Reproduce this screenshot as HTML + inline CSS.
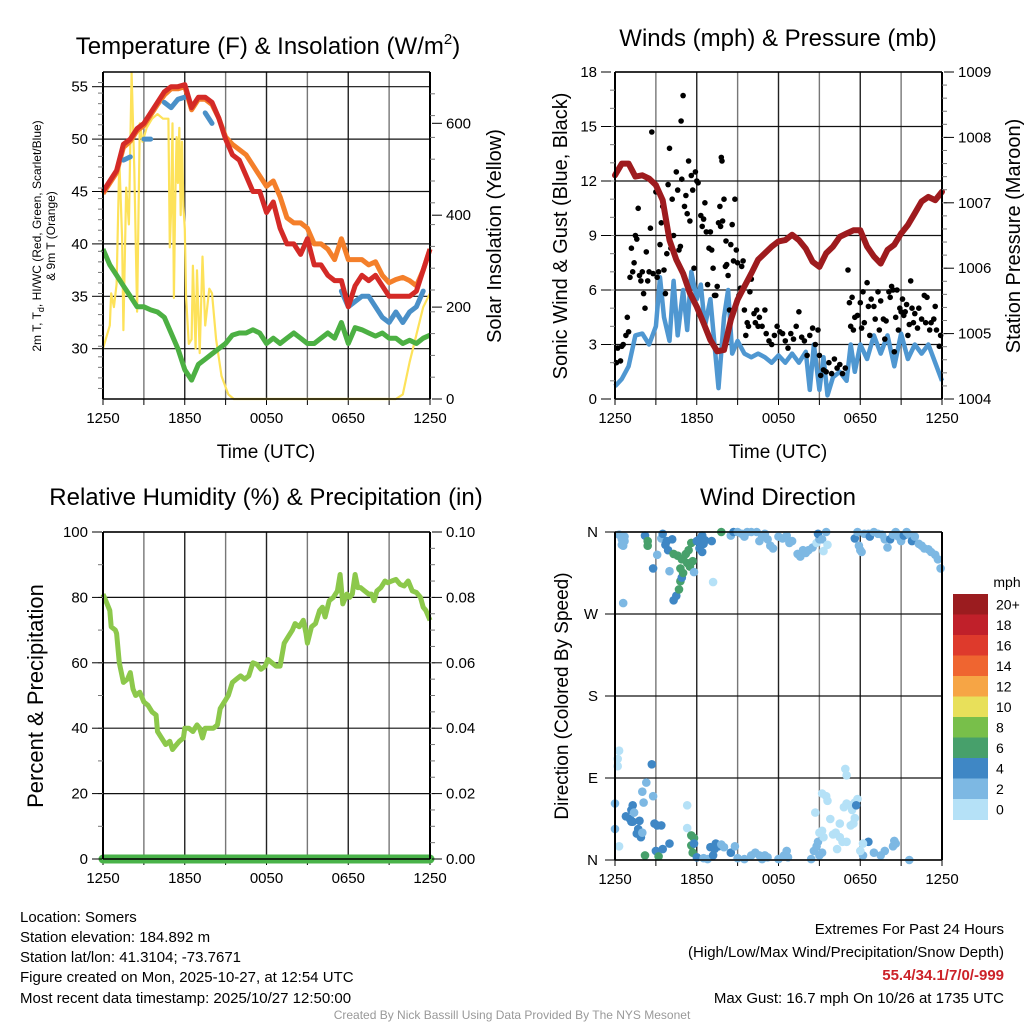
<!DOCTYPE html>
<html><head><meta charset="utf-8"><style>
html,body{margin:0;padding:0;background:#fff;}
svg{display:block;font-family:"Liberation Sans",sans-serif;}
</style></head><body>
<svg id="chart" width="1024" height="1024" viewBox="0 0 1024 1024" xmlns="http://www.w3.org/2000/svg">
<rect width="1024" height="1024" fill="#fff"/>
<g id="p1"></g>
<g id="p2"></g>
<g id="p3"></g>
<g id="p4"></g>
<g font-size="24" text-anchor="middle" fill="#000">
<text x="268" y="54">Temperature (F) &amp; Insolation (W/m<tspan font-size="15" dy="-10">2</tspan><tspan dy="10">)</tspan></text>
<text x="778" y="46">Winds (mph) &amp; Pressure (mb)</text>
<text x="266" y="505">Relative Humidity (%) &amp; Precipitation (in)</text>
<text x="778" y="505">Wind Direction</text>
</g>
<g fill="#000">
<text x="266" y="458" font-size="19" text-anchor="middle">Time (UTC)</text>
<text x="778" y="458" font-size="19" text-anchor="middle">Time (UTC)</text>
<text font-size="12" text-anchor="middle" transform="translate(41,236) rotate(-90)">2m T, T<tspan font-size="9" dy="3">d</tspan><tspan dy="-3">, HI/WC (Red, Green, Scarlet/Blue)</tspan></text>
<text font-size="12" text-anchor="middle" transform="translate(55,236) rotate(-90)">&amp; 9m T (Orange)</text>
<text font-size="20" text-anchor="middle" transform="translate(501,236) rotate(-90)">Solar Insolation (Yellow)</text>
<text font-size="20" text-anchor="middle" transform="translate(567,236) rotate(-90)">Sonic Wind &amp; Gust (Blue, Black)</text>
<text font-size="20" text-anchor="middle" transform="translate(1020,236) rotate(-90)">Station Pressure (Maroon)</text>
<text font-size="22" text-anchor="middle" transform="translate(43,696) rotate(-90)">Percent &amp; Precipitation</text>
<text font-size="19" text-anchor="middle" transform="translate(568,696) rotate(-90)">Direction (Colored By Speed)</text>
</g>
<g font-size="15" fill="#000">
<text x="20" y="922">Location: Somers</text>
<text x="20" y="942">Station elevation: 184.892 m</text>
<text x="20" y="962">Station lat/lon: 41.3104; -73.7671</text>
<text x="20" y="982">Figure created on Mon, 2025-10-27, at 12:54 UTC</text>
<text x="20" y="1003">Most recent data timestamp: 2025/10/27 12:50:00</text>
<text x="1004" y="934" text-anchor="end">Extremes For Past 24 Hours</text>
<text x="1004" y="957" text-anchor="end">(High/Low/Max Wind/Precipitation/Snow Depth)</text>
<text x="1004" y="980" text-anchor="end" fill="#cc2229" font-weight="bold">55.4/34.1/7/0/-999</text>
<text x="1004" y="1003" text-anchor="end">Max Gust: 16.7 mph On 10/26 at 1735 UTC</text>
<text x="512" y="1019" text-anchor="middle" font-size="12" fill="#999">Created By Nick Bassill Using Data Provided By The NYS Mesonet</text>
</g>
</svg>
<script>
const xLabels = ["1250","1850","0050","0650","1250"];
const tempTicks = [30,35,40,45,50,55];
const insolTicks = [0,200,400,600];
const windTicks = [0,3,6,9,12,15,18];
const presTicks = [1004,1005,1006,1007,1008,1009];
const rhTicks = [0,20,40,60,80,100];
const precipTicks = ["0.00","0.02","0.04","0.06","0.08","0.10"];
const dirLabels = ["N","E","S","W","N"];
const speedBins = ["0","2","4","6","8","10","12","14","16","18","20+"];
const speedColors = ["#b5e1f7","#7db8e3","#3f87c5","#47a06b","#78bf4a","#e8e05a","#f6a545","#ef6530","#de3a2c","#c0202a","#9b1c1f"];

const tHalf = [0,0.5,1,1.5,2,2.5,3,3.5,4,4.5,5,5.5,6,6.5,7,7.5,8,8.5,9,9.5,10,10.5,11,11.5,12,12.5,13,13.5,14,14.5,15,15.5,16,16.5,17,17.5,18,18.5,19,19.5,20,20.5,21,21.5,22,22.5,23,23.5,24];
const tempRed = [45,46,47,49.5,50,51,51.5,52.5,53.5,54.5,55,55,55.2,53,54,54,53.5,52,50,48.5,48,46.5,45,45,43,44,41.5,40,40,39,40.5,38,38,37,36.5,36.5,34,36,37,36.5,37,36,35,35,35,35,35.5,37.5,39.5];
const tempOrange = [44.8,45.8,46.8,49.2,49.8,50.8,51.3,52.3,53.3,54.2,54.8,54.8,55,52.8,53.8,53.8,53.3,52,50.2,49.5,49,48.5,47.5,46.5,45.5,46,44.5,42.5,42,42,41.5,40,40,39.5,38.5,40.5,38.5,38.5,38.5,38,38.3,37,36.3,36.6,36.8,36.5,36,37.5,39.5];
const tempBlue = [null,null,null,48,48.3,null,50,50,null,53.5,53,53.8,54,null,null,52.5,51.5,null,null,null,null,null,null,null,null,null,null,38.5,null,null,null,null,null,null,null,35.5,34,34.5,35,35,34,33,32.5,33.5,32.5,33.5,34,35.5,null];
const dewGreen = [39.5,38,37,36,35,34,34,33.7,33.5,33,31.5,30,28,27,28.5,29,29.5,30,30.5,31.3,31.5,31.5,31.8,31.5,30.5,31,30.5,31,31.5,31,30.5,30.5,31,31.5,31,32.5,30.5,32,31.8,31.5,31.2,31.5,31,31,30.5,30.8,30.5,31,31.3];
const insolT = [0,0.5,0.6,0.8,1.0,1.2,1.4,1.5,1.7,1.9,2.1,2.3,2.5,2.7,2.9,3.2,3.6,4.0,4.4,4.8,4.9,5.0,5.1,5.2,5.3,5.4,5.5,5.6,5.7,5.8,5.9,6.0,6.1,6.3,6.5,6.6,6.8,6.9,7.1,7.3,7.5,7.8,8.0,8.3,8.7,9.2,9.6,21.5,22.0,22.5,23,23.5,24];
const insolV = [110,160,230,200,250,520,350,150,460,380,710,500,190,600,560,590,610,620,610,610,330,410,600,220,430,570,470,590,400,560,420,370,220,120,130,290,110,280,100,310,160,240,230,130,50,10,0,0,10,80,140,200,230];

const presV = [1007.42,1007.6,1007.6,1007.4,1007.42,1007.37,1007.27,1007.04,1006.43,1006.13,1005.92,1005.62,1005.41,1005.16,1004.9,1004.73,1004.75,1005.21,1005.52,1005.72,1005.92,1006.13,1006.23,1006.33,1006.41,1006.43,1006.51,1006.43,1006.3,1006.1,1006.02,1006.23,1006.33,1006.48,1006.53,1006.58,1006.58,1006.33,1006.18,1006.07,1006.28,1006.36,1006.53,1006.66,1006.84,1007.02,1007.09,1007.04,1007.17];
const windT = [0,0.5,1,1.5,2,2.5,3,3.3,3.6,4,4.3,4.6,5,5.3,5.6,6,6.3,6.6,7,7.3,7.6,8,8.3,8.6,9,9.5,10,10.5,11,11.5,12,12.5,13,13.5,14,14.3,14.6,15,15.3,15.6,16,16.5,17,17.3,17.6,18,18.5,19,19.5,20,20.5,21,21.5,22,22.5,23,23.5,24];
const windV = [0.7,1.1,1.8,3.5,3.6,3.0,4.0,6.7,4.5,3.2,6.5,3.5,6.0,3.8,7.0,5.5,6.3,4.0,5.5,3.0,0.6,4.5,6.0,2.5,3.2,2.5,2.3,2.5,2.3,2.0,2.4,2.0,2.5,2.0,2.6,0.5,3.0,0.5,2.3,0.2,1.2,1.5,1.0,3.0,1.5,3.0,2.2,3.5,2.5,3.5,1.8,3.6,2.2,3.0,2.5,3.0,2.0,1.0];
const gustT = [0.1,0.2,0.4,0.5,0.6,0.8,0.9,1.0,1.1,1.2,1.3,1.4,1.5,1.6,1.7,1.8,1.9,2.0,2.1,2.2,2.3,2.4,2.5,2.6,2.7,2.8,3.0,3.1,3.2,3.3,3.4,3.5,3.6,3.7,3.8,3.9,4.0,4.1,4.2,4.3,4.5,4.6,4.7,4.8,4.85,4.9,5.0,5.1,5.2,5.3,5.4,5.5,5.6,5.7,5.8,5.9,6.0,6.1,6.3,6.4,6.5,6.6,6.7,6.8,6.9,7.0,7.1,7.2,7.3,7.4,7.5,7.6,7.7,7.75,7.8,7.85,7.9,8.0,8.1,8.15,8.2,8.3,8.4,8.5,8.6,8.7,8.8,8.9,9.0,9.1,9.2,9.3,9.4,9.5,9.6,9.7,9.8,9.9,10.0,10.2,10.3,10.4,10.5,10.6,10.8,11.0,11.1,11.3,11.5,11.7,11.9,12.1,12.3,12.5,12.7,12.9,13.1,13.3,13.5,13.7,13.9,14.1,14.3,14.5,14.7,14.9,15.0,15.1,15.3,15.5,15.7,15.9,16.1,16.3,16.5,16.7,16.9,17.1,17.2,17.3,17.4,17.5,17.6,17.8,18.0,18.1,18.2,18.3,18.5,18.6,18.7,18.8,19.0,19.1,19.3,19.4,19.5,19.7,19.8,19.9,20.1,20.2,20.3,20.4,20.5,20.6,20.7,20.8,20.9,21.0,21.1,21.2,21.3,21.4,21.5,21.6,21.7,21.8,21.9,22.0,22.2,22.3,22.5,22.7,22.8,22.9,23.1,23.2,23.4,23.5,23.6,23.8,23.9];
const gustV = [2.0,2.8,2.1,2.9,3.0,3.5,4.5,3.7,6.7,8.3,7.0,7.5,9.0,8.8,10.5,6.8,6.5,7.0,5.8,5.0,8.1,6.5,7.0,9.4,14.7,6.9,11.4,6.7,7.0,8.5,9.7,10.6,7.1,5.8,8.0,11.8,13.8,8.3,11.0,9.0,12.5,11.5,8.2,8.4,15.3,12.1,16.7,10.6,11.2,10.2,13.1,9.8,12.3,11.5,7.2,12.5,12.0,11.9,10.1,9.5,9.9,10.8,9.2,6.3,8.3,9.2,8.2,7.2,5.7,5.7,6.2,9.7,10.6,9.5,13.3,13.1,9.8,11.0,7.3,8.7,7.4,6.8,4.9,8.5,9.6,7.6,11.0,8.2,7.5,5.7,6.1,7.3,7.6,4.9,3.5,4.2,4.0,5.9,6.6,4.7,4.2,4.9,4.0,4.5,4.0,4.9,3.6,3.2,3.0,3.5,4.0,3.7,3.6,3.2,2.8,3.6,3.3,4.0,4.8,3.4,3.2,2.4,3.5,3.9,3.0,3.8,2.4,1.3,1.6,1.5,2.0,1.4,2.2,1.7,1.9,1.4,1.7,7.1,5.3,4.0,5.6,3.8,4.5,4.6,5.3,3.9,5.9,4.2,6.4,5.1,3.5,5.5,5.1,4.4,5.9,3.8,5.4,4.4,3.3,4.3,5.9,5.6,6.2,6.0,2.6,4.5,6.0,3.8,5.0,4.8,5.5,4.6,4.8,5.2,3.5,4.1,6.5,5.0,4.2,4.7,3.9,5.0,4.4,5.7,4.2,5.6,3.8,4.2,4.4,5.1,3.8,2.9,3.5];

const rhT = [0,0.3,0.5,0.6,0.9,1.0,1.2,1.5,1.8,2.0,2.2,2.4,2.7,3.0,3.3,3.6,3.9,4.0,4.3,4.6,4.9,5.1,5.3,5.6,5.9,6.0,6.3,6.6,6.9,7.1,7.3,7.5,7.8,8.1,8.4,8.6,8.9,9.2,9.5,9.8,10.1,10.4,10.7,11.0,11.3,11.6,11.9,12.1,12.4,12.7,13.0,13.3,13.6,13.9,14.1,14.4,14.7,14.9,15.0,15.3,15.6,15.9,16.1,16.3,16.6,16.9,17.2,17.4,17.6,17.9,18.1,18.3,18.5,18.7,18.9,19.2,19.5,19.7,19.9,20.1,20.4,20.7,20.9,21.2,21.5,21.8,22.1,22.4,22.7,23.0,23.3,23.5,23.7,24];
const rhV = [81,78,76,71,70,69,60,54,55,57,52,50,51,48,47,45,44,39,37,35,36,33.5,34.5,36,37,40,40,39,41,40,37,40,40,40,41,46,48,50,54,55,56,55,56,60,59.5,58,59,61,60,59,59,66,68,70,72,71,73,69,66,71,72,76,77,74,79,80,82,87,78,81,80,81,87,83,83,82,81,81,79,82,83,85,84.5,85,85.5,84,83.5,85,82,81.5,80,77,76,73];
const precipT = [0,24];
const precipV = [0,0];

const dirT = [0.3,0.5,0.7,0.7,0.6,0.5,0.6,2.2,2.4,2.4,2.8,3.1,3.4,3.5,3.8,3.9,3.7,4.2,4.0,4.3,4.6,4.8,4.9,5.0,5.2,5.3,5.5,5.4,5.7,5.8,4.3,4.5,4.7,4.8,4.9,5.0,5.6,6.0,6.2,6.4,6.2,6.4,6.5,6.6,7.1,7.2,7.8,8.5,8.7,9.0,9.3,9.5,9.7,10.0,10.4,10.6,10.8,11.0,11.2,11.4,11.6,12.0,12.3,12.6,12.8,13.0,13.4,13.6,13.8,14.0,14.2,14.5,14.8,15.0,14.9,15.2,15.5,15.3,15.6,17.6,17.8,17.9,18.0,18.1,18.3,18.6,18.7,19.0,19.3,19.6,19.8,20.0,20.2,20.4,20.6,20.8,21.0,21.2,21.4,21.6,21.8,22.0,22.3,22.5,22.7,23.0,23.2,23.5,23.7,23.9,
0.3,0.2,0.2,0.0,0.0,0.3,0.8,1.1,1.2,1.3,1.2,1.3,1.4,1.6,1.7,1.8,1.9,2.0,2.1,2.0,2.3,2.2,2.7,2.8,2.9,3.1,3.0,3.2,3.4,3.5,4.0,5.3,5.3,5.6,5.8,5.6,5.7,5.8,6.0,6.5,6.8,7.0,7.3,7.2,7.4,7.6,7.8,8.0,8.5,8.8,9.0,9.5,10.0,10.3,10.6,10.8,11.0,11.2,12.0,12.4,12.6,12.7,14.4,14.6,14.8,15.0,15.2,14.9,15.3,15.0,15.2,14.7,15.2,15.5,15.6,15.8,16.0,16.2,16.5,16.7,16.3,16.5,17.0,17.3,17.4,17.6,17.8,17.0,16.8,16.9,17.0,17.7,17.3,17.5,17.6,18.2,18.6,18.0,19.0,19.5,19.8,20.4,20.6,20.5,21.6,18.2];
const dirDeg = [357,352,350,355,345,346,282,356,350,345,320,335,353,358,350,340,346,352,317,336,334,320,330,330,336,326,322,340,328,316,285,290,297,306,310,315,348,350,352,356,342,338,347,351,350,305,360,356,360,360,358,355,360,360,360,350,355,358,352,345,342,355,353,356,348,350,336,333,340,337,340,343,348,352,358,352,360,339,346,353,360,345,340,338,358,358,355,360,358,357,352,343,352,357,360,355,350,356,360,357,350,355,347,345,342,341,338,335,330,320,
120,103,111,62,34,15,48,45,42,42,55,60,52,29,34,43,25,30,63,75,85,5,105,70,40,38,10,4,38,12,18,60,35,27,24,16,8,18,3,2,1,14,12,5,18,15,17,14,8,15,2,1,5,8,5,1,5,3,1,5,10,3,1,10,15,5,8,20,25,30,32,52,73,70,65,45,28,30,25,20,12,40,20,60,55,63,67,62,58,100,93,60,38,40,46,5,20,10,8,5,10,15,18,21,0,18];
const dirSpd = [1,1,1,1,1,1,1,2,3,3,2,1,1,2,2,2,2,2,1,3,3,3,3,3,3,3,3,3,3,1,2,2,3,3,2,3,3,2,2,2,2,2,2,2,2,0,3,1,2,1,1,1,1,1,1,1,1,1,1,1,1,1,1,1,1,1,1,1,1,1,1,1,0,1,2,1,1,0,0,2,1,1,1,1,1,1,2,1,1,1,1,1,2,1,1,1,1,2,1,1,2,1,1,1,1,1,1,1,1,1,
0,0,0,1,1,0,2,2,2,2,2,2,1,2,2,2,2,1,1,1,1,3,2,1,2,2,2,3,2,2,2,0,0,3,3,3,3,2,2,1,1,2,2,2,2,2,1,1,2,1,1,1,1,1,1,1,1,1,1,1,1,1,1,1,1,1,1,1,0,0,0,0,0,0,0,0,0,0,0,0,0,0,0,0,0,0,0,0,0,0,0,2,0,0,0,1,2,0,1,1,1,1,1,1,1,0];

const NS = "http://www.w3.org/2000/svg";
function mk(parent, tag, attrs, name){
  const e = document.createElementNS(NS, tag);
  for (const k in attrs) e.setAttribute(k, attrs[k]);
  
  
  parent.appendChild(e);
  return e;
}
function lin(d0,d1,r0,r1){ return v => r0 + (v-d0)*(r1-r0)/(d1-d0); }
function pathFrom(ts, vs, xs, ys){
  let d = "", pen = false;
  for (let i=0;i<ts.length;i++){
    if (vs[i]===null || vs[i]===undefined){ pen=false; continue; }
    d += (pen?"L":"M") + xs(ts[i]).toFixed(1) + "," + ys(vs[i]).toFixed(1);
    pen = true;
  }
  return d;
}
function frame(g, L, R, T, B, xs, hTicksY, prefix){
  for (let h=0; h<=24; h+=3){
    const x = xs(h);
    mk(g,'line',{x1:x,x2:x,y1:T,y2:B,stroke:(h%6===0)?'#222':'#777','stroke-width':1.4}, prefix+'-vgrid');
    mk(g,'line',{x1:x,x2:x,y1:B,y2:B+6,stroke:'#000','stroke-width':1}, prefix+'-xtick');
  }
  hTicksY.forEach(y=>{
    mk(g,'line',{x1:L,x2:R,y1:y,y2:y,stroke:'#111','stroke-width':1.2}, prefix+'-hgrid');
  });
  xLabels.forEach((lab,i)=>{
    const t = mk(g,'text',{x:xs(i*6),y:B+24,'font-size':15,'text-anchor':'middle'}, prefix+'-xlabel');
    t.textContent = lab;
  });
}
function border(g,L,R,T,B,prefix){
  mk(g,'line',{x1:L,x2:L,y1:T,y2:B,stroke:'#000','stroke-width':2}, prefix+'-left-axis');
  mk(g,'line',{x1:R,x2:R,y1:T,y2:B,stroke:'#000','stroke-width':2}, prefix+'-right-axis');
  mk(g,'line',{x1:L,x2:R,y1:T,y2:T,stroke:'#000','stroke-width':1.5}, prefix+'-top-axis');
  mk(g,'line',{x1:L,x2:R,y1:B,y2:B,stroke:'#000','stroke-width':1.5}, prefix+'-bottom-axis');
}
function minor(g, x, dir, T, B, n, prefix){
  for (let i=1;i<n;i++){
    const y = T + (B-T)*i/n;
    mk(g,'line',{x1:x,x2:x+dir*5,y1:y,y2:y,stroke:'#777'}, prefix+'-minor-tick');
  }
}
function yLabels(g, vals, ys, x, anchor, prefix, lab){
  vals.forEach((v,i)=>{
    const y = ys(typeof v==='string'?parseFloat(v):v);
    mk(g,'line',{x1:anchor==='end'?x+4:x-14,x2:anchor==='end'?x+14:x-4,y1:y,y2:y,stroke:'#000'}, prefix+'-ytick');
    const t = mk(g,'text',{x:x,y:y+5,'font-size':15,'text-anchor':anchor}, prefix+'-ylabel');
    t.textContent = lab ? lab[i] : v;
  });
}

/* Panel 1 */
(function(){
  const g = document.getElementById('p1');
  const L=103,R=430,T=72,B=399;
  const xs = lin(0,24,L,R);
  const yT = lin(30,55,348.7,86.7);
  const yI = lin(0,600,399,123.3);
  frame(g,L,R,T,B,xs,tempTicks.map(yT),'temp');
  mk(g,'path',{d:pathFrom(insolT,insolV,xs,yI),fill:'none',stroke:'#fde25a','stroke-width':2.2,'stroke-linejoin':'round'},'insolation-line');
  mk(g,'path',{d:pathFrom(tHalf,dewGreen,xs,yT),fill:'none',stroke:'#4cb043','stroke-width':5,'stroke-linejoin':'round'},'dewpoint-line');
  mk(g,'path',{d:pathFrom(tHalf,tempOrange,xs,yT),fill:'none',stroke:'#f47f2a','stroke-width':5,'stroke-linejoin':'round'},'temp-9m-line');
  mk(g,'path',{d:pathFrom(tHalf,tempBlue,xs,yT),fill:'none',stroke:'#4a90c8','stroke-width':5,'stroke-linejoin':'round','stroke-linecap':'round'},'windchill-line');
  mk(g,'path',{d:pathFrom(tHalf,tempRed,xs,yT),fill:'none',stroke:'#d42a27','stroke-width':5,'stroke-linejoin':'round'},'temp-2m-line');
  border(g,L,R,T,B,'temp');
  minor(g,L,-1,T,B,31,'temp');
  minor(g,R,1,T,B,15,'insolation');
  yLabels(g,tempTicks,yT,88,'end','temp');
  yLabels(g,insolTicks,yI,446,'start','insolation');
})();

/* Panel 2 */
(function(){
  const g = document.getElementById('p2');
  const L=615,R=942,T=72,B=399;
  const xs = lin(0,24,L,R);
  const yW = lin(0,18,B,T);
  const yP = lin(1004,1009,B,T);
  frame(g,L,R,T,B,xs,windTicks.map(yW),'wind');
  mk(g,'path',{d:pathFrom(windT,windV,xs,yW),fill:'none',stroke:'#4f97d1','stroke-width':4.5,'stroke-linejoin':'round'},'wind-speed-line');
  for (let i=0;i<gustT.length;i++){
    mk(g,'circle',{cx:xs(gustT[i]).toFixed(1),cy:yW(gustV[i]).toFixed(1),r:2.8,fill:'#000'},'gust-point');
  }
  mk(g,'path',{d:pathFrom(tHalf,presV,xs,yP),fill:'none',stroke:'#9e1b1e','stroke-width':6,'stroke-linejoin':'round','stroke-linecap':'round'},'pressure-line');
  border(g,L,R,T,B,'wind');
  minor(g,L,-1,T,B,18,'wind');
  minor(g,R,1,T,B,25,'pressure');
  yLabels(g,windTicks,yW,597,'end','wind');
  yLabels(g,presTicks,yP,958,'start','pressure');
})();

/* Panel 3 */
(function(){
  const g = document.getElementById('p3');
  const L=103,R=430,T=532,B=859;
  const xs = lin(0,24,L,R);
  const yR = lin(0,100,B,T);
  const yPr = lin(0,0.1,B,T);
  frame(g,L,R,T,B,xs,rhTicks.map(yR),'rh');
  mk(g,'path',{d:pathFrom(rhT,rhV,xs,yR),fill:'none',stroke:'#8cc84b','stroke-width':5,'stroke-linejoin':'round'},'humidity-line');
  mk(g,'path',{d:pathFrom(precipT,precipV,xs,yPr),fill:'none',stroke:'#49b349','stroke-width':9,'stroke-linecap':'round'},'precipitation-line');
  border(g,L,R,T,B,'rh');
  minor(g,L,-1,T,B,10,'rh');
  minor(g,R,1,T,B,20,'precip');
  yLabels(g,rhTicks,yR,88,'end','rh');
  yLabels(g,precipTicks,yPr,446,'start','precip',precipTicks);
})();

/* Panel 4 */
(function(){
  const g = document.getElementById('p4');
  const L=615,R=942,T=532,B=860;
  const xs = lin(0,24,L,R);
  const yD = lin(0,360,B,T);
  frame(g,L,R,T,B,xs,[0,90,180,270,360].map(yD),'dir');
  for (let i=0;i<dirT.length;i++){
    mk(g,'circle',{cx:xs(dirT[i]).toFixed(1),cy:yD(Math.min(dirDeg[i],360)).toFixed(1),r:4.3,fill:speedColors[dirSpd[i]]},'direction-point');
  }
  border(g,L,R,T,B,'dir');
  dirLabels.forEach((lab,i)=>{
    const y = yD(i*90);
    mk(g,'line',{x1:L-10,x2:L,y1:y,y2:y,stroke:'#000'},'dir-ytick');
    const t = mk(g,'text',{x:598,y:y+5,'font-size':15,'text-anchor':'end'},'dir-ylabel');
    t.textContent = lab;
  });
  const cb = mk(g,'g',{},'speed-colorbar');
  const cbT = 594, h = 20.5;
  const ct = mk(cb,'text',{x:1007,y:cbT-7,'font-size':14,'text-anchor':'middle'},'colorbar-title');
  ct.textContent = 'mph';
  speedBins.forEach((lab,i)=>{
    const k = speedBins.length-1-i;
    mk(cb,'rect',{x:953,y:cbT+i*h,width:35,height:h+0.5,fill:speedColors[k]},'colorbar-box');
    const t = mk(cb,'text',{x:996,y:cbT+i*h+h/2+5,'font-size':14},'colorbar-label');
    t.textContent = speedBins[k];
  });
})();
</script>
</body></html>
